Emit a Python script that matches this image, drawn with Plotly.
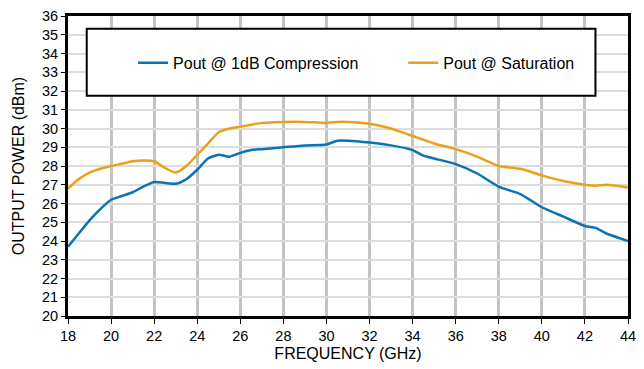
import plotly.graph_objects as go

freq = [18, 18.5, 19, 19.5, 20, 20.5, 21, 21.5, 22, 22.5, 23, 23.5, 24, 24.5, 25, 25.5, 26, 26.5, 27, 28, 29, 30, 30.5, 31, 32, 33, 34, 34.5, 35, 36, 37, 38, 39, 40, 41, 42, 42.5, 43, 44]
p1db = [23.7, 24.4, 25.1, 25.7, 26.2, 26.4, 26.6, 26.9, 27.15, 27.1, 27.05, 27.3, 27.8, 28.4, 28.6, 28.5, 28.7, 28.85, 28.9, 29.0, 29.1, 29.15, 29.35, 29.35, 29.25, 29.1, 28.85, 28.55, 28.4, 28.1, 27.6, 26.9, 26.5, 25.8, 25.3, 24.8, 24.7, 24.4, 24.0]
psat = [26.8, 27.3, 27.65, 27.85, 28.0, 28.12, 28.25, 28.3, 28.25, 27.9, 27.65, 28.0, 28.6, 29.2, 29.8, 30.0, 30.1, 30.2, 30.3, 30.35, 30.35, 30.3, 30.35, 30.35, 30.25, 30.0, 29.6, 29.4, 29.2, 28.9, 28.5, 28.0, 27.85, 27.5, 27.2, 27.0, 26.95, 27.0, 26.85]

names = ["Pout @ 1dB Compression", "Pout @ Saturation"]
colors = ["#0a73b5", "#eaa01c"]
legends = ["legend", "legend2"]

fig = go.Figure()
for y, n, c, lg in zip([p1db, psat], names, colors, legends):
    fig.add_trace(go.Scatter(x=freq, y=y, name=n, mode="lines", legend=lg,
                             line=dict(color=c, width=2.5, shape="spline", smoothing=0.6)))

font = "Liberation Sans, Arial, sans-serif"
L, T, PW, PH = 68, 13, 568, 308
leg_common = dict(orientation="h", y=(T + PH - 61) / PH, xanchor="left", yanchor="middle",
                  bgcolor="rgba(0,0,0,0)", borderwidth=0,
                  font=dict(family=font, size=16, color="black"))
fig.update_layout(
    width=644, height=369,
    margin=dict(l=L, r=644 - L - PW, t=T, b=369 - T - PH),
    paper_bgcolor="white", plot_bgcolor="white",
    font=dict(family=font, size=14.5, color="black"),
    showlegend=True,
    legend=dict(x=(134 - L) / PW, **leg_common),
    legend2=dict(x=(408 - L) / PW, **leg_common),
    shapes=[dict(type="rect", xref="paper", yref="paper",
                 x0=(87 - L) / PW, x1=(603 - L) / PW,
                 y0=(T + PH - 95) / PH, y1=(T + PH - 26) / PH,
                 line=dict(color="black", width=2), fillcolor="white", layer="above")],
)
fig.update_xaxes(range=[18, 44], tickvals=list(range(18, 45, 2)), showgrid=True,
                 gridcolor="#c4c4c4", gridwidth=2.5, showline=True, linecolor="black",
                 linewidth=3, mirror=True, ticks="outside", ticklen=5, tickcolor="black",
                 title=dict(text="FREQUENCY (GHz)", font=dict(size=16), standoff=5), zeroline=False)
fig.update_yaxes(range=[20, 36], dtick=1, showgrid=True, gridcolor="#dcdcdc", gridwidth=1.5,
                 showline=True, linecolor="black", linewidth=3, mirror=True, ticks="outside",
                 ticklen=4, tickcolor="black",
                 title=dict(text="OUTPUT POWER (dBm)", font=dict(size=16), standoff=14), zeroline=False)

fig.write_html("out.html")
